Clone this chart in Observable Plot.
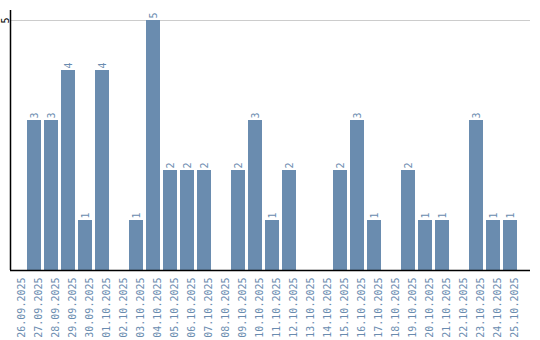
<!DOCTYPE html>
<html>
<head>
<meta charset="utf-8">
<script src="https://cdn.jsdelivr.net/npm/d3@7"></script>
<script src="https://cdn.jsdelivr.net/npm/@observablehq/plot@0.6"></script>
<style>
  html, body { margin: 0; padding: 0; background: #fff; }
  #chart { width: 540px; height: 340px; }
</style>
</head>
<body>
<div id="chart"></div>
<script>
const dates = ["26.09.2025","27.09.2025","28.09.2025","29.09.2025","30.09.2025","01.10.2025","02.10.2025","03.10.2025","04.10.2025","05.10.2025","06.10.2025","07.10.2025","08.10.2025","09.10.2025","10.10.2025","11.10.2025","12.10.2025","13.10.2025","14.10.2025","15.10.2025","16.10.2025","17.10.2025","18.10.2025","19.10.2025","20.10.2025","21.10.2025","22.10.2025","23.10.2025","24.10.2025","25.10.2025"];
const counts = [0,3,3,4,1,4,0,1,5,2,2,2,0,2,3,1,2,0,0,2,3,1,0,2,1,1,0,3,1,1];
const yTicks = [5];

const data = dates.map((d, i) => ({date: d, value: counts[i]}));
const nonZero = data.filter(d => d.value > 0);
const barColor = "#6a8caf";
const font = "'DejaVu Sans Mono', monospace";

const chart = Plot.plot({
  width: 540,
  height: 340,
  marginTop: 10,
  marginLeft: 10,
  marginRight: 10,
  marginBottom: 70,
  style: {fontFamily: font, fontSize: "10px", background: "#fff"},
  x: {domain: dates, range: [10, 517], paddingInner: 0.18, paddingOuter: 0},
  y: {domain: [0, 5.2]},
  marks: [
    Plot.ruleY(yTicks, {stroke: "#cccccc", strokeWidth: 1}),
    Plot.barY(nonZero, {x: "date", y: "value", fill: barColor}),
    Plot.text(nonZero, {x: "date", y: "value", text: d => String(d.value), rotate: -90, textAnchor: "start", dy: -2, fill: barColor, fontSize: 10, fontFamily: font}),
    Plot.axisX({tickSize: 0, tickPadding: 7, rotate: -90, textAnchor: "end", fill: barColor, fontSize: 10, fontFamily: font, label: null}),
    Plot.axisY({ticks: yTicks, tickFormat: "d", tickSize: 0, tickPadding: 5, rotate: -90, textAnchor: "middle", fill: "#000", fontSize: 10, fontFamily: font, label: null}),
    Plot.ruleY([0], {stroke: "#000", strokeWidth: 1.5}),
    Plot.ruleX([dates[0]], {dx: -7, stroke: "#000", strokeWidth: 1.5})
  ]
});
document.getElementById("chart").appendChild(chart);
</script>
</body>
</html>
